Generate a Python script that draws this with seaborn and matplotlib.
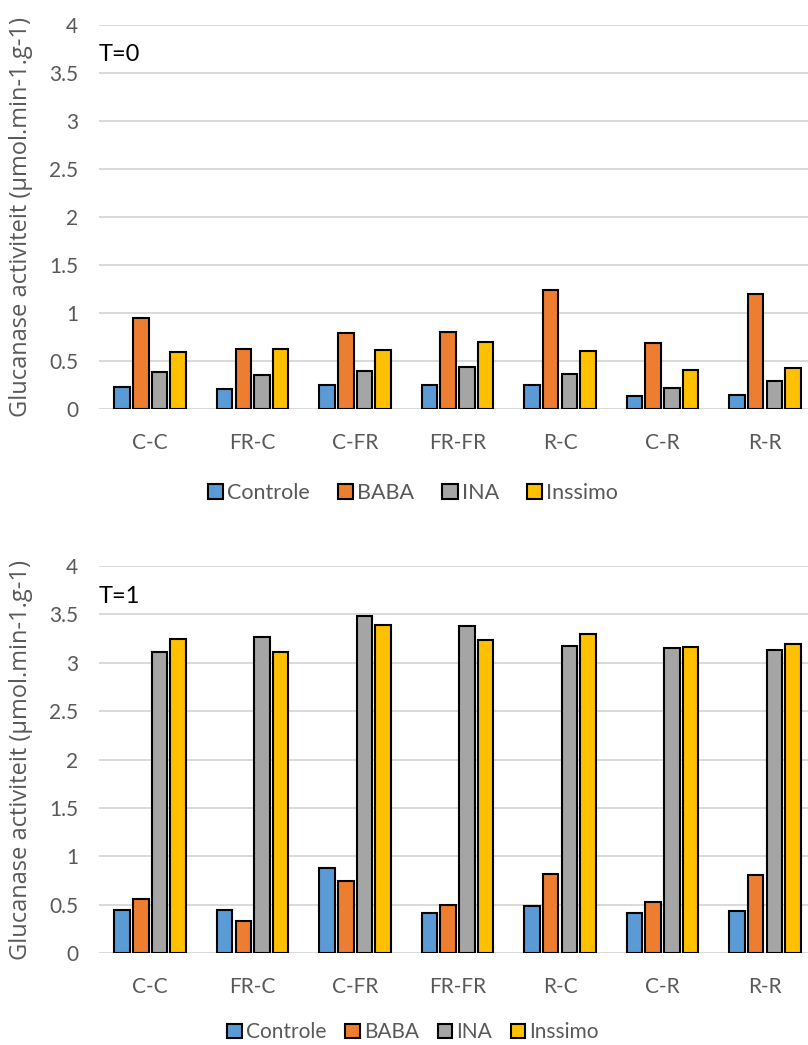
import pandas as pd
import seaborn as sns
from matplotlib import pyplot as plt
from matplotlib.patches import Patch

# categorieen en reeksen
behandelingen = ["C-C", "FR-C", "C-FR", "FR-FR", "R-C", "C-R", "R-R"]
reeksen = ["Controle", "BABA", "INA", "Inssimo"]
kleuren = ["#5B9BD5", "#ED7D31", "#A5A5A5", "#FFC000"]

# T=0
t0_controle = [0.225, 0.21, 0.25, 0.255, 0.245, 0.14, 0.15]
t0_baba = [0.95, 0.62, 0.79, 0.80, 1.24, 0.69, 1.20]
t0_ina = [0.385, 0.35, 0.40, 0.435, 0.36, 0.22, 0.29]
t0_inssimo = [0.59, 0.63, 0.61, 0.695, 0.60, 0.41, 0.425]

# T=1
t1_controle = [0.45, 0.44, 0.877, 0.41, 0.49, 0.41, 0.437]
t1_baba = [0.554, 0.334, 0.746, 0.50, 0.82, 0.526, 0.805]
t1_ina = [3.11, 3.27, 3.48, 3.38, 3.17, 3.15, 3.13]
t1_inssimo = [3.25, 3.11, 3.39, 3.24, 3.295, 3.16, 3.19]

ylabel = "Glucanase activiteit (µmol.min-1.g-1)"
grijs = "#595959"


def maak_df(*waarden):
    rijen = []
    for naam, vals in zip(reeksen, waarden):
        for beh, v in zip(behandelingen, vals):
            rijen.append({"behandeling": beh, "reeks": naam, "waarde": v})
    return pd.DataFrame(rijen)


sns.set_style("white")
plt.rcParams["font.family"] = ["Lato", "DejaVu Sans"]

fig = plt.figure(figsize=(8.08, 10.45), dpi=100)
ax1 = fig.add_axes([0.1225, 0.6086, 0.8775, 0.3675])
ax2 = fig.add_axes([0.1225, 0.0880, 0.8775, 0.3703])

# (as, data, titel, legenda-y, legenda-fontsize, kolomafstand)
panelen = [
    (ax1, maak_df(t0_controle, t0_baba, t0_ina, t0_inssimo), "T=0", -0.218, 15.5, 1.3),
    (ax2, maak_df(t1_controle, t1_baba, t1_ina, t1_inssimo), "T=1", -0.205, 15, 0.9),
]

for ax, df, titel, leg_y, leg_fs, kolom in panelen:
    sns.barplot(data=df, x="behandeling", y="waarde", hue="reeks",
                order=behandelingen, hue_order=reeksen, palette=kleuren,
                saturation=1, width=0.73, gap=0.17, edgecolor="black",
                linewidth=1.5, errorbar=None, legend=False, ax=ax)
    ax.set_ylim(0, 4)
    ax.set_xlim(-0.5, 6.42)
    ax.set_yticks([0, 0.5, 1, 1.5, 2, 2.5, 3, 3.5, 4])
    ax.set_yticklabels(["0", "0.5", "1", "1.5", "2", "2.5", "3", "3.5", "4"])
    ax.grid(axis="y", color="#D9D9D9", linewidth=1.4)
    ax.set_axisbelow(True)
    for s in ax.spines.values():
        s.set_visible(False)
    ax.tick_params(axis="both", length=0, labelsize=15, colors=grijs)
    ax.tick_params(axis="y", pad=15)
    ax.tick_params(axis="x", pad=17)
    ax.set_xlabel("")
    ax.set_ylabel(ylabel, fontsize=17, color=grijs, fontfamily="Open Sans")
    ax.yaxis.set_label_coords(-0.093, 0.5)
    ax.text(0.0, 0.905, titel, transform=ax.transAxes, fontsize=17, color="black")

    handles = [Patch(facecolor=k, edgecolor="black", linewidth=1.5) for k in kleuren]
    leg = ax.legend(handles, reeksen, loc="center", bbox_to_anchor=(0.443, leg_y),
                    ncol=4, frameon=False, fontsize=leg_fs, handlelength=0.7,
                    handleheight=0.7, handletextpad=0.2, columnspacing=kolom)
    for t in leg.get_texts():
        t.set_color(grijs)

fig.savefig("out.png", dpi=100)
